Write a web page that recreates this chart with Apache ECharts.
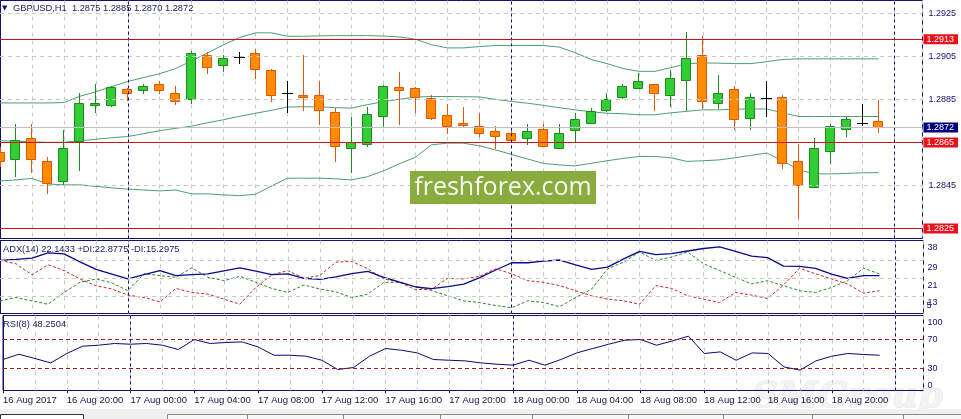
<!DOCTYPE html>
<html>
<head>
<meta charset="utf-8">
<script src="https://cdn.jsdelivr.net/npm/echarts@6.0.0/dist/echarts.min.js"></script>
<style>
html,body{margin:0;padding:0;background:#fff;}
#chart{width:961px;height:419px;}
</style>
</head>
<body>
<div id="chart"></div>
<script>
// ---------- DATA ----------
const categories = [
 '16 Aug 16:00','16 Aug 17:00','16 Aug 18:00','16 Aug 19:00','16 Aug 20:00','16 Aug 21:00','16 Aug 22:00','16 Aug 23:00',
 '17 Aug 00:00','17 Aug 01:00','17 Aug 02:00','17 Aug 03:00','17 Aug 04:00','17 Aug 05:00','17 Aug 06:00','17 Aug 07:00',
 '17 Aug 08:00','17 Aug 09:00','17 Aug 10:00','17 Aug 11:00','17 Aug 12:00','17 Aug 13:00','17 Aug 14:00','17 Aug 15:00',
 '17 Aug 16:00','17 Aug 17:00','17 Aug 18:00','17 Aug 19:00','17 Aug 20:00','17 Aug 21:00','17 Aug 22:00','17 Aug 23:00',
 '18 Aug 00:00','18 Aug 01:00','18 Aug 02:00','18 Aug 03:00','18 Aug 04:00','18 Aug 05:00','18 Aug 06:00','18 Aug 07:00',
 '18 Aug 08:00','18 Aug 09:00','18 Aug 10:00','18 Aug 11:00','18 Aug 12:00','18 Aug 13:00','18 Aug 14:00','18 Aug 15:00',
 '18 Aug 16:00','18 Aug 17:00','18 Aug 18:00','18 Aug 19:00','18 Aug 20:00','18 Aug 21:00','18 Aug 22:00','18 Aug 23:00'
];
const openP = [1.28608,1.28574,1.28672,1.28565,1.28470,1.28655,1.28824,1.28824,1.28897,1.28893,1.28924,1.28881,1.28853,1.29055,1.29010,1.29049,
 1.29064,1.28985,1.28881,1.28872,1.28873,1.28793,1.28625,1.28644,1.28772,1.28907,1.28904,1.28855,1.28776,1.28742,1.28726,1.28704,
 1.28695,1.28672,1.28714,1.28625,1.28706,1.28742,1.28800,1.28863,1.28904,1.28923,1.28870,1.28940,1.29055,1.28835,1.28897,1.28765,
 1.28855,1.28863,1.28566,1.28444,1.28610,1.28714,1.28742,1.28750];
const highP = [1.28630,1.28734,1.28734,1.28583,1.28706,1.28881,1.28923,1.28912,1.28904,1.28924,1.28935,1.28915,1.29075,1.29072,1.29055,1.29072,
 1.29083,1.28993,1.28935,1.29055,1.28935,1.28811,1.28770,1.28816,1.28918,1.28977,1.28906,1.28873,1.28827,1.28814,1.28785,1.28726,
 1.28710,1.28734,1.28734,1.28734,1.28785,1.28811,1.28881,1.28924,1.28974,1.28923,1.28986,1.29163,1.29144,1.28966,1.28915,1.28881,
 1.28935,1.28870,1.28645,1.28672,1.28734,1.28770,1.28827,1.28850];
const lowP = [1.28540,1.28493,1.28514,1.28416,1.28459,1.28521,1.28791,1.28820,1.28847,1.28878,1.28878,1.28831,1.28835,1.28974,1.28982,1.29021,
 1.28948,1.28842,1.28791,1.28799,1.28738,1.28563,1.28514,1.28636,1.28721,1.28738,1.28791,1.28757,1.28695,1.28723,1.28679,1.28625,
 1.28651,1.28641,1.28633,1.28625,1.28656,1.28740,1.28798,1.28858,1.28902,1.28800,1.28822,1.28800,1.28811,1.28811,1.28714,1.28714,
 1.28772,1.28532,1.28300,1.28444,1.28556,1.28679,1.28731,1.28700];
const closeP = [1.28562,1.28661,1.28574,1.28463,1.28625,1.28835,1.28835,1.28906,1.28881,1.28915,1.28893,1.28842,1.29064,1.29000,1.29044,1.29049,
 1.28993,1.28870,1.28881,1.28861,1.28800,1.28636,1.28653,1.28783,1.28915,1.28893,1.28861,1.28765,1.28729,1.28731,1.28695,1.28679,
 1.28661,1.28703,1.28636,1.28695,1.28757,1.28796,1.28853,1.28915,1.28934,1.28881,1.28951,1.29044,1.28842,1.28881,1.28757,1.28863,
 1.28855,1.28556,1.28451,1.28625,1.28726,1.28757,1.28742,1.28720];
const bbUpper = [1.28834,1.28834,1.28834,1.28834,1.28836,1.28865,1.28886,1.28910,1.28934,1.28952,1.28970,1.28994,1.29030,1.29067,1.29105,1.29138,
 1.29160,1.29160,1.29144,1.29144,1.29146,1.29147,1.29147,1.29147,1.29145,1.29141,1.29131,1.29105,1.29090,1.29090,1.29096,1.29101,
 1.29101,1.29101,1.29101,1.29094,1.29068,1.29036,1.29017,1.28994,1.28981,1.28981,1.28998,1.29017,1.29020,1.29019,1.29017,1.29017,
 1.29026,1.29036,1.29039,1.29039,1.29039,1.29039,1.29039,1.29039];
const bbMiddle = [1.28658,1.28656,1.28653,1.28651,1.28651,1.28658,1.28665,1.28672,1.28678,1.28691,1.28705,1.28716,1.28726,1.28742,1.28756,1.28772,
 1.28786,1.28800,1.28815,1.28816,1.28816,1.28812,1.28810,1.28826,1.28840,1.28851,1.28861,1.28864,1.28864,1.28863,1.28862,1.28851,
 1.28841,1.28833,1.28823,1.28812,1.28802,1.28793,1.28786,1.28784,1.28779,1.28779,1.28788,1.28795,1.28802,1.28802,1.28805,1.28806,
 1.28806,1.28788,1.28771,1.28771,1.28771,1.28771,1.28771,1.28771];
const bbLower = [1.28471,1.28476,1.28483,1.28457,1.28453,1.28453,1.28446,1.28439,1.28433,1.28429,1.28425,1.28429,1.28411,1.28411,1.28406,1.28403,
 1.28409,1.28448,1.28484,1.28484,1.28484,1.28481,1.28476,1.28491,1.28518,1.28551,1.28581,1.28639,1.28647,1.28647,1.28635,1.28616,
 1.28595,1.28574,1.28553,1.28546,1.28541,1.28553,1.28565,1.28576,1.28585,1.28585,1.28579,1.28562,1.28565,1.28569,1.28579,1.28590,
 1.28601,1.28565,1.28523,1.28504,1.28504,1.28506,1.28509,1.28510];
const adx = [29.0,29.46,30.05,32.43,31.97,28.31,24.98,22.83,20.63,22.6,24.43,22.14,22.6,22.92,24.29,25.66,
 24.2,22.6,22.92,20.91,20.41,21.55,23.06,24.06,21.37,19.17,16.98,16.2,17.11,18.26,21.23,24.66,
 27.95,27.95,28.68,29.18,26.94,24.98,25.94,29.69,33.11,31.65,32.11,33.25,34.39,35.13,33.11,30.97,
 30.23,26.39,26.3,25.39,22.83,20.91,22.14,22.1433];
const plusDI = [10.71,12.22,10.71,9.21,14.51,19.08,20.63,18.81,15.29,22.92,22.14,21.37,25.66,21.37,19.86,21.82,
 19.08,16.34,14.51,17.89,16.06,14.83,12.22,13.78,19.08,19.08,17.11,15.29,13.0,10.71,9.94,8.6,
 7.65,10.71,9.94,8.11,12.22,16.06,25.21,28.22,32.79,29.0,30.51,32.79,27.49,24.43,21.37,18.35,
 19.86,17.57,15.29,14.51,16.79,19.86,25.48,22.8775];
const minusDI = [29.0,27.49,22.46,27.03,24.43,20.63,17.57,16.06,13.32,12.22,10.26,16.34,14.51,13.78,11.49,9.21,
 16.79,22.46,24.43,20.91,22.14,28.22,28.54,25.21,20.63,19.08,15.74,16.06,20.91,20.63,21.82,25.21,
 22.92,19.86,19.08,17.57,15.29,13.0,11.49,10.71,9.21,17.57,16.34,13.0,11.49,9.94,14.51,13.32,
 11.77,17.89,25.48,22.92,20.63,18.35,14.23,15.2975];
const rsi = [42.4,49.7,43.8,37.7,50.7,60.8,62.1,64.5,63.5,64.5,62.1,56.2,70.0,64.5,65.9,66.7,
 59.8,48.3,48.3,47.0,41.4,28.6,31.4,47.0,57.6,55.2,51.5,42.4,41.4,40.5,37.7,35.9,
 34.6,41.4,34.6,42.4,51.5,57.6,63.5,69.0,70.0,62.1,68.1,74.6,50.7,52.9,41.4,51.5,
 50.7,32.2,27.7,40.5,47.0,50.7,49.3,48.2504];

const timeTickCategories = ['16 Aug 16:00','16 Aug 20:00','17 Aug 00:00','17 Aug 04:00','17 Aug 08:00','17 Aug 12:00','17 Aug 16:00',
 '17 Aug 20:00','18 Aug 00:00','18 Aug 04:00','18 Aug 08:00','18 Aug 12:00','18 Aug 16:00','18 Aug 20:00'];
const timeTickLabels = ['16 Aug 2017','16 Aug 20:00','17 Aug 00:00','17 Aug 04:00','17 Aug 08:00','17 Aug 12:00','17 Aug 16:00',
 '17 Aug 20:00','18 Aug 00:00','18 Aug 04:00','18 Aug 08:00','18 Aug 12:00','18 Aug 16:00','18 Aug 20:00'];
const dayStartCategories = ['17 Aug 00:00','18 Aug 00:00'];

const priceGridLevels = [1.2925, 1.2905, 1.2885, 1.2865, 1.2845, 1.2825];
const priceTickLabels = [1.2925, 1.2905, 1.2885, 1.2845];
const redLevels = [1.2913, 1.2865, 1.2825];
const bidLevel = 1.2872;

const adxGridLevels = [29, 21, 13];
const adxTickLabels = [38, 29, 21, 13];
const adxMinLabel = [5];
const rsiLevels = [70, 30];
const rsiTopLabel = [100];
const rsiBottomLabel = [0];

const symbolName = 'GBPUSD,H1';
const adxText = 'ADX(14) 22.1433 +DI:22.8775 -DI:15.2975';
const rsiText = 'RSI(8) 48.2504';

// ---------- CHART ----------
const NAVY = '#12126a';
const FONT = 'Liberation Sans';
const last = categories.length - 1;
const f4 = v => v.toFixed(4);

const timeTickValues = timeTickCategories.map(c => categories.indexOf(c));
const daySeparators = dayStartCategories.map(c => categories.indexOf(c)).concat([categories.length]);

const XMAX = 57.75;
const MAIN_MIN = 1.2925 - 225 / 21500;
const MAIN_MAX = 1.2925 + 13 / 21500;
const RSI_MIN = 30 - 22 / 0.725;
const RSI_MAX = 70 + 24 / 0.725;

function hLines(values, lineStyle) {
  return { silent: true, symbol: ['none', 'none'], label: { show: false }, lineStyle, animation: false, precision: 8,
    emphasis: { disabled: true }, data: values.map(v => ({ yAxis: v })) };
}
function vLines(values, lineStyle) {
  return { silent: true, symbol: ['none', 'none'], label: { show: false }, lineStyle, animation: false, precision: 8,
    emphasis: { disabled: true }, data: values.map(v => ({ xAxis: v })) };
}
const gridStyle = { color: '#c8c8c8', type: [4, 4], width: 1 };
const sepStyle = { color: NAVY, type: [3, 3], width: 1 };

function renderCandle(params, api) {
  const i = api.value(0), o = api.value(1), c = api.value(2), l = api.value(3), h = api.value(4);
  const pO = api.coord([i, o]), pC = api.coord([i, c]), pH = api.coord([i, h]), pL = api.coord([i, l]);
  const col = Math.floor(pO[0]);
  const halfW = Math.round(api.size([1, 0])[0] * 0.31);
  const doji = o === c;
  const bull = c > o;
  const stroke = doji ? '#000000' : (bull ? '#1f8a1f' : '#e2560c');
  const fill = bull ? '#32cd32' : '#ff8c00';
  const children = [{
    type: 'line',
    shape: { x1: col + 0.5, y1: Math.round(pH[1]), x2: col + 0.5, y2: Math.round(pL[1]) + 1 },
    style: { stroke, lineWidth: 1 }
  }];
  if (doji) {
    const y = Math.round(pO[1]) + 0.5;
    children.push({ type: 'line', shape: { x1: col - halfW, y1: y, x2: col + halfW + 1, y2: y }, style: { stroke, lineWidth: 1 } });
  } else {
    const top = Math.round(Math.min(pO[1], pC[1])) + 0.5;
    const bot = Math.round(Math.max(pO[1], pC[1])) + 0.5;
    children.push({
      type: 'rect',
      shape: { x: col - halfW + 0.5, y: top, width: 2 * halfW - 1, height: Math.max(bot - top, 1) },
      style: { fill, stroke, lineWidth: 1 }
    });
  }
  return { type: 'group', children };
}

const xAxisBase = g => ({
  type: 'value', gridIndex: g, min: 0, max: XMAX, interval: 2,
  axisLine: { show: false }, axisTick: { show: false }, axisLabel: { show: false },
  splitLine: { show: true, lineStyle: gridStyle }
});

const titleStyle = { fontSize: 9.3, fontWeight: 'normal', color: '#1a1a5e', fontFamily: FONT };

const option = {
  animation: false,
  backgroundColor: '#ffffff',
  textStyle: { fontFamily: FONT },
  title: [
    { text: '\u25BC', left: 2, top: 5, padding: 0, textStyle: { fontSize: 7, fontWeight: 'normal', color: NAVY, fontFamily: 'DejaVu Sans' } },
    { text: symbolName + '  ' + [openP[last], highP[last], lowP[last], closeP[last]].map(f4).join(' '), left: 13, top: 4, padding: 0, textStyle: titleStyle },
    { text: adxText, left: 3, top: 245, padding: 0, textStyle: titleStyle },
    { text: rsiText, left: 3, top: 320, padding: 0, textStyle: titleStyle }
  ],
  grid: [
    { left: -0.5, top: 0.5, width: 924, height: 238, show: true, borderColor: NAVY, borderWidth: 1, backgroundColor: 'transparent' },
    { left: -0.5, top: 240.5, width: 924, height: 73, show: true, borderColor: NAVY, borderWidth: 1, backgroundColor: 'transparent' },
    { left: -0.5, top: 315.5, width: 924, height: 75, show: true, borderColor: NAVY, borderWidth: 1, backgroundColor: 'transparent' }
  ],
  xAxis: [
    xAxisBase(0), xAxisBase(1), xAxisBase(2),
    {
      type: 'value', gridIndex: 2, min: 0, max: XMAX, position: 'bottom',
      axisLine: { show: false },
      splitLine: { show: false },
      axisTick: { show: true, customValues: timeTickValues, length: 3, lineStyle: { color: NAVY } },
      axisLabel: {
        show: true, customValues: timeTickValues, align: 'left', margin: 5,
        fontSize: 9.5, color: '#14143c', fontFamily: FONT,
        formatter: v => timeTickLabels[timeTickValues.indexOf(Math.round(v))] || ''
      }
    }
  ],
  yAxis: [
    {
      type: 'value', gridIndex: 0, position: 'right', min: MAIN_MIN, max: MAIN_MAX,
      axisLine: { show: true, lineStyle: { color: NAVY } },
      splitLine: { show: false },
      axisTick: { show: true, customValues: priceTickLabels, length: 3, lineStyle: { color: NAVY } },
      axisLabel: {
        customValues: priceTickLabels.concat(redLevels, [bidLevel]), margin: 1, fontSize: 9, fontFamily: FONT,
        formatter: v => {
          const s = f4(v);
          if (redLevels.map(f4).includes(s)) return '{r|' + s + '}';
          if (f4(bidLevel) === s) return '{b|' + s + '}';
          return '{n|' + s + '}';
        },
        rich: {
          n: { color: NAVY, fontSize: 9, fontFamily: FONT, padding: [0, 0, 0, 5] },
          r: { color: '#ffffff', backgroundColor: '#ea1119', fontSize: 9, fontFamily: FONT, lineHeight: 10, padding: [1, 4, 0, 3] },
          b: { color: '#ffffff', backgroundColor: '#00007c', fontSize: 9, fontFamily: FONT, lineHeight: 10, padding: [1, 4, 0, 3] }
        }
      }
    },
    {
      type: 'value', gridIndex: 1, position: 'right', min: 5, max: 38,
      axisLine: { show: true, lineStyle: { color: NAVY } }, splitLine: { show: false },
      axisTick: { show: true, customValues: adxGridLevels, length: 3, lineStyle: { color: NAVY } },
      axisLabel: { customValues: adxTickLabels, margin: 4, fontSize: 9, color: NAVY, verticalAlign: 'top', lineHeight: 14, formatter: v => String(Math.round(v)) }
    },
    {
      type: 'value', gridIndex: 1, position: 'right', offset: 0, min: 5, max: 38,
      axisLine: { show: false }, splitLine: { show: false }, axisTick: { show: false },
      axisLabel: { customValues: adxMinLabel, margin: 3, fontSize: 9, color: NAVY, verticalAlign: 'bottom', lineHeight: 16, formatter: v => String(Math.round(v)) }
    },
    {
      type: 'value', gridIndex: 2, position: 'right', min: RSI_MIN, max: RSI_MAX,
      axisLine: { show: true, lineStyle: { color: NAVY } }, splitLine: { show: false },
      axisTick: { show: true, customValues: rsiLevels, length: 3, lineStyle: { color: NAVY } },
      axisLabel: { customValues: rsiLevels, margin: 4, fontSize: 9, color: NAVY, formatter: v => String(Math.round(v)) }
    },
    {
      type: 'value', gridIndex: 2, position: 'right', offset: 0, min: RSI_MIN, max: RSI_MAX,
      axisLine: { show: false }, splitLine: { show: false }, axisTick: { show: false },
      axisLabel: { customValues: rsiTopLabel, margin: 4, fontSize: 9, color: NAVY, verticalAlign: 'top', formatter: v => String(Math.round(v)) }
    },
    {
      type: 'value', gridIndex: 2, position: 'right', offset: 0, min: RSI_MIN, max: RSI_MAX,
      axisLine: { show: false }, splitLine: { show: false }, axisTick: { show: false },
      axisLabel: { customValues: rsiBottomLabel, margin: 4, fontSize: 9, color: NAVY, verticalAlign: 'bottom', formatter: v => String(Math.round(v)) }
    }
  ],
  series: [
    // main panel grid + levels
    { type: 'line', xAxisIndex: 0, yAxisIndex: 0, data: [], z: 1, silent: true,
      markLine: hLines(priceGridLevels, gridStyle) },
    { type: 'line', xAxisIndex: 0, yAxisIndex: 0, data: [], z: 1, silent: true,
      markLine: vLines(daySeparators, sepStyle) },
    { type: 'line', xAxisIndex: 0, yAxisIndex: 0, data: [], z: 1, silent: true,
      markLine: hLines([bidLevel], { color: '#c0c0c0', type: 'solid', width: 1 }) },
    { type: 'line', xAxisIndex: 0, yAxisIndex: 0, data: [], z: 1, silent: true,
      markLine: hLines(redLevels, { color: '#c8161c', type: 'solid', width: 1 }) },
    // Bollinger bands
    ...[bbUpper, bbMiddle, bbLower].map(arr => ({
      type: 'line', xAxisIndex: 0, yAxisIndex: 0, z: 2, silent: true, symbol: 'none',
      data: arr.map((v, i) => [i, v]),
      lineStyle: { color: '#4b9f72', width: 1 }
    })),
    // candles
    { type: 'custom', xAxisIndex: 0, yAxisIndex: 0, z: 3, silent: true, clip: true,
      renderItem: renderCandle,
      encode: { x: 0, y: [1, 2, 3, 4] },
      data: categories.map((c, i) => [i, openP[i], closeP[i], lowP[i], highP[i]]) },
    // ADX panel
    { type: 'line', xAxisIndex: 1, yAxisIndex: 1, data: [], z: 1, silent: true,
      markLine: hLines(adxGridLevels, gridStyle) },
    { type: 'line', xAxisIndex: 1, yAxisIndex: 1, data: [], z: 1, silent: true,
      markLine: vLines(daySeparators, sepStyle) },
    { name: 'ADX', type: 'line', xAxisIndex: 1, yAxisIndex: 1, z: 3, silent: true, symbol: 'none',
      data: adx.map((v, i) => [i, v]), lineStyle: { color: '#0a0a8a', width: 1.3 } },
    { name: '+DI', type: 'line', xAxisIndex: 1, yAxisIndex: 1, z: 2, silent: true, symbol: 'none',
      data: plusDI.map((v, i) => [i, v]), lineStyle: { color: '#2a8a2a', width: 1, type: [3, 2] } },
    { name: '-DI', type: 'line', xAxisIndex: 1, yAxisIndex: 1, z: 2, silent: true, symbol: 'none',
      data: minusDI.map((v, i) => [i, v]), lineStyle: { color: '#cc2a2a', width: 1, type: [3, 2] } },
    // RSI panel
    { type: 'line', xAxisIndex: 2, yAxisIndex: 3, data: [], z: 1, silent: true,
      markLine: hLines(rsiLevels, { color: '#b01818', type: [4, 3], width: 1 }) },
    { type: 'line', xAxisIndex: 2, yAxisIndex: 3, data: [], z: 1, silent: true,
      markLine: vLines(daySeparators, sepStyle) },
    { name: 'RSI', type: 'line', xAxisIndex: 2, yAxisIndex: 3, z: 3, silent: true, symbol: 'none',
      data: rsi.map((v, i) => [i, v]), lineStyle: { color: '#0a0a70', width: 1 } }
  ],
  graphic: [
    { type: 'text', x: 752, y: 380, z: -1, silent: true,
      style: { text: 'SMGroup', font: 'italic bold 36px "DejaVu Serif"', fill: '#f3f3f3', stroke: '#e2e2e2', lineWidth: 1 } },
    { type: 'rect', z: 0, silent: true, shape: { x: 0, y: 409, width: 961, height: 10 }, style: { fill: '#f0f0f0' } },
    { type: 'rect', z: 1, silent: true, shape: { x: 0.5, y: 414.5, width: 83, height: 8 }, style: { fill: '#ffffff', stroke: '#333333', lineWidth: 1 } },
    { type: 'rect', z: 1, silent: true, shape: { x: 167.5, y: 414.5, width: 800, height: 8 }, style: { fill: '#f7f7f7', stroke: '#8a8a8a', lineWidth: 1 } },
    ...[247, 343, 440, 532, 628, 723, 812, 903].map(x => ({
      type: 'line', z: 1, silent: true, shape: { x1: x + 0.5, y1: 414.5, x2: x + 0.5, y2: 419 }, style: { stroke: '#8a8a8a', lineWidth: 1 }
    })),
    { type: 'rect', z: 50, silent: true, shape: { x: 410, y: 171, width: 186, height: 33 }, style: { fill: '#8aab3e' } },
    { type: 'text', z: 51, silent: true, x: 503, y: 188,
      style: { text: 'freshforex.com', font: '25px "Open Sans"', fill: '#f6f8ee', align: 'center', verticalAlign: 'middle' } }
  ]
};

const chart = echarts.init(document.getElementById('chart'), null, { renderer: 'canvas', width: 961, height: 419 });
chart.setOption(option);
</script>
</body>
</html>
